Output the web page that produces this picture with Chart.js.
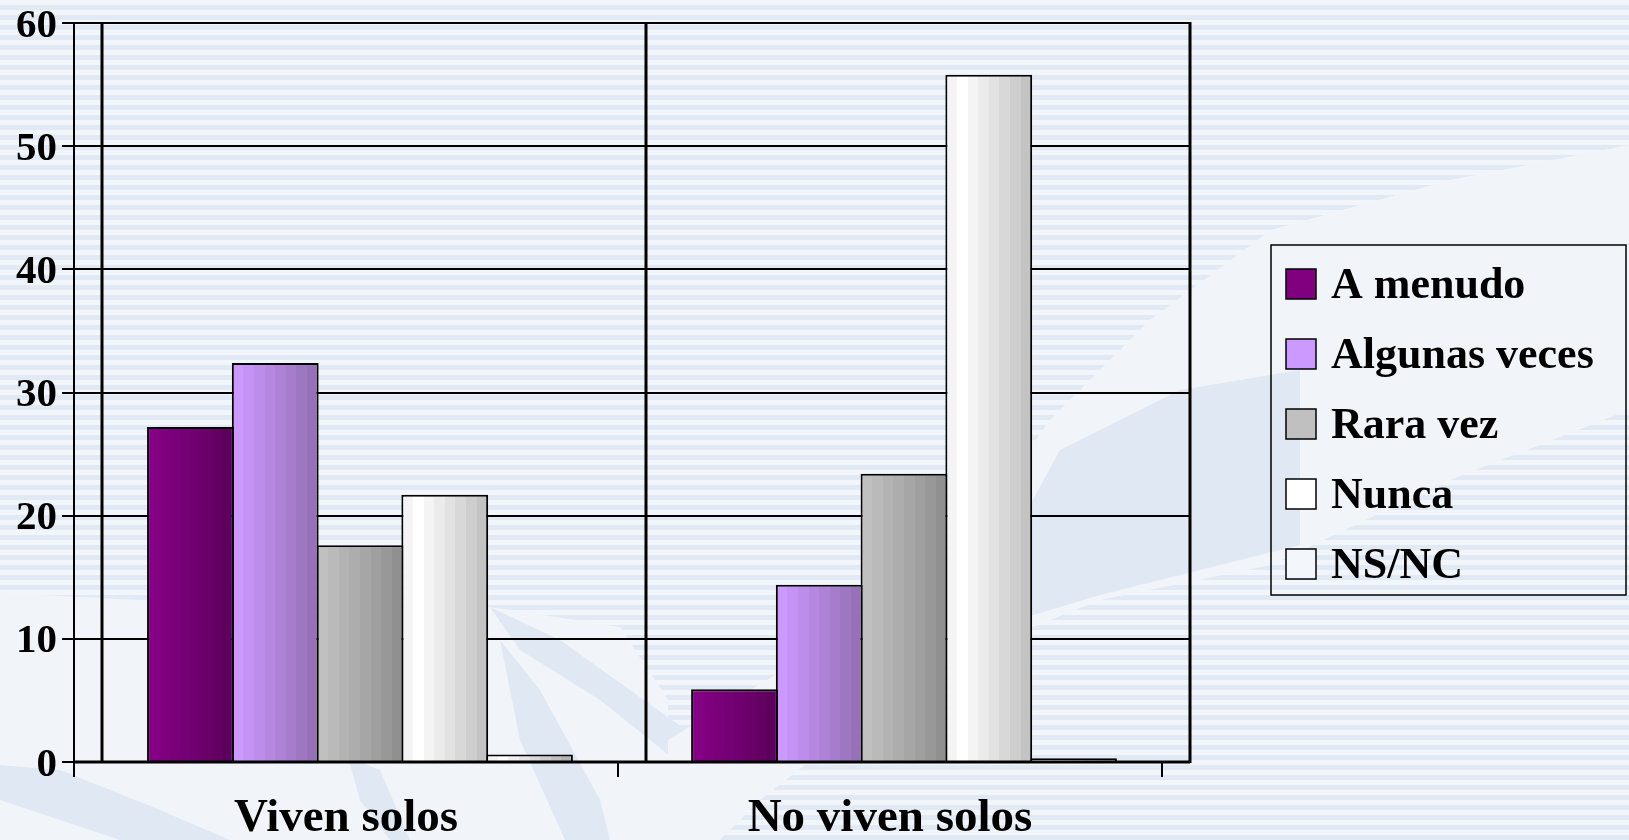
<!DOCTYPE html>
<html lang="es">
<head>
<meta charset="utf-8">
<title>Viven solos / No viven solos</title>
<script src="https://cdn.jsdelivr.net/npm/chart.js@4.4.1/dist/chart.umd.min.js"></script>
<style>
  html, body { margin: 0; padding: 0; }
  body {
    width: 1629px; height: 840px; overflow: hidden; position: relative;
    background: repeating-linear-gradient(to bottom, #f2f6fb 0px, #f2f6fb 5px, #e0e9f4 5px, #e0e9f4 10px);
  }
  .swoosh { position: absolute; left: 0; top: 0; width: 1629px; height: 840px; }
  .light { background: #f1f5fa; }
  .mid { background: #dfe8f3; }
  #chart { position: absolute; left: 0; top: 0; }
</style>
</head>
<body>
<!-- background decoration -->
<div class="swoosh light" style="clip-path: polygon(0px 593px, 140px 600px, 300px 625px, 490px 607px, 620px 627px, 668px 700px, 668px 840px, 0px 840px);"></div>
<div class="swoosh mid" style="clip-path: polygon(0px 765px, 60px 770px, 160px 810px, 230px 840px, 120px 840px, 0px 800px);"></div>
<div class="swoosh mid" style="clip-path: polygon(490px 607px, 560px 640px, 700px 740px, 700px 780px, 600px 700px, 520px 650px);"></div>
<div class="swoosh mid" style="clip-path: polygon(500px 640px, 540px 690px, 600px 800px, 610px 840px, 565px 840px, 520px 740px);"></div>
<div class="swoosh mid" style="clip-path: polygon(348px 757px, 380px 770px, 410px 840px, 390px 840px, 360px 800px);"></div>
<div class="swoosh light" style="clip-path: polygon(668px 740px, 800px 660px, 950px 560px, 1050px 420px, 1150px 320px, 1271px 230px, 1450px 180px, 1629px 145px, 1629px 410px, 1450px 480px, 1271px 565px, 1100px 600px, 950px 660px, 850px 730px, 760px 800px, 720px 840px, 668px 840px);"></div>
<div class="swoosh mid" style="clip-path: polygon(1000px 560px, 1060px 450px, 1180px 390px, 1300px 370px, 1300px 545px, 1100px 595px, 1000px 625px);"></div>

<canvas id="chart" width="1629" height="840"></canvas>
<script>
// data
const categories = ['Viven solos', 'No viven solos'];
const seriesLabels = ['A menudo', 'Algunas veces', 'Rara vez', 'Nunca', 'NS/NC'];
const aMenudo = [27.2, 5.9];
const algunasVeces = [32.4, 14.4];
const raraVez = [17.6, 23.4];
const nunca = [21.7, 55.8];
const nsNc = [0.6, 0.3];
const yTicks = [0, 10, 20, 30, 40, 50, 60];

const seriesValues = [aMenudo, algunasVeces, raraVez, nunca, nsNc];

// look
const FONT = "'Liberation Serif', 'Times New Roman', serif";
const CAT_PCT = 0.779;
const WALL_SHIFT = 14; // the old 3D chart draws its walls a bit right of the axis
const swatchColors = ['#800080', '#cc99ff', '#c0c0c0', '#ffffff', '#f3f6fa'];
const bands = [
  ['#840084', '#7f007f', '#7a007a', '#750075', '#700070', '#6a006a', '#640064', '#5d005d'],
  ['#cc99ff', '#c592f5', '#bd8deb', '#b688e1', '#ae83d7', '#a67dcc', '#9e77c2', '#9771b8'],
  ['#c0c0c0', '#bababa', '#b3b3b3', '#adadad', '#a6a6a6', '#9f9f9f', '#989898', '#909090'],
  ['#f4f4f4', '#ffffff', '#f4f4f4', '#ebebeb', '#e2e2e2', '#d8d8d8', '#cecece', '#c3c3c3'],
  ['#f4f4f4', '#ffffff', '#f0f0f0', '#e4e4e4', '#d8d8d8', '#cccccc', '#bfbfbf', '#b2b2b2']
];

function barFill(context) {
  const ds = context.datasetIndex;
  const chart = context.chart;
  const x = chart.scales.x;
  if (context.type !== 'data' || !x || !chart.chartArea) return swatchColors[ds];
  const catW = x.width / categories.length;
  const barW = catW * CAT_PCT / seriesLabels.length;
  const left = x.getPixelForValue(context.dataIndex) - catW * CAT_PCT / 2 + ds * barW;
  const g = chart.ctx.createLinearGradient(left, 0, left + barW, 0);
  const b = bands[ds];
  b.forEach((c, i) => {
    g.addColorStop(i / b.length, c);
    g.addColorStop((i + 1) / b.length - 0.0001, c);
  });
  return g;
}

function line(ctx, x1, y1, x2, y2) {
  ctx.beginPath();
  ctx.moveTo(x1, y1);
  ctx.lineTo(x2, y2);
  ctx.stroke();
}

// gridlines, walls and axis ticks of the old style plot
const framePlugin = {
  id: 'frame',
  beforeDatasetsDraw(chart) {
    const { ctx, chartArea: a, scales: { x, y } } = chart;
    const catW = x.width / categories.length;
    const top = y.getPixelForValue(yTicks[yTicks.length - 1]);
    const base = y.getPixelForValue(yTicks[0]);
    const axisX = a.left - WALL_SHIFT;
    const wallRight = a.right + WALL_SHIFT;
    ctx.save();
    ctx.strokeStyle = '#000';
    ctx.lineWidth = 2;
    yTicks.forEach(v => {
      const py = Math.round(y.getPixelForValue(v));
      line(ctx, axisX - 12, py, wallRight, py);
    });
    line(ctx, axisX, top - 1, axisX, base);
    for (let k = 0; k <= categories.length; k++) {
      const px = a.left + k * catW - WALL_SHIFT;
      line(ctx, px, base, px, base + 15);
    }
    ctx.lineWidth = 3;
    for (let k = 0; k <= categories.length; k++) {
      const px = a.left + k * catW + WALL_SHIFT;
      line(ctx, px, top - 1, px, base + 1);
    }
    ctx.restore();
  },
  afterDatasetsDraw(chart) {
    const { ctx, chartArea: a, scales: { y } } = chart;
    const base = Math.round(y.getPixelForValue(yTicks[0]));
    ctx.save();
    ctx.strokeStyle = '#000';
    ctx.lineWidth = 3;
    line(ctx, a.left - WALL_SHIFT, base, a.right + WALL_SHIFT, base);
    ctx.restore();
  }
};

// boxed legend on the right
const LEGEND = { left: 1271, top: 245, right: 1626, bottom: 595, swatchX: 1286, firstTop: 269, step: 70, size: 30, textX: 1331, font: 44 };
const legendPlugin = {
  id: 'boxLegend',
  afterDraw(chart) {
    const ctx = chart.ctx;
    ctx.save();
    ctx.strokeStyle = '#000';
    ctx.lineWidth = 1.5;
    ctx.strokeRect(LEGEND.left, LEGEND.top, LEGEND.right - LEGEND.left, LEGEND.bottom - LEGEND.top);
    ctx.font = 'bold ' + LEGEND.font + 'px ' + FONT;
    ctx.textBaseline = 'middle';
    ctx.textAlign = 'left';
    chart.data.datasets.forEach((ds, i) => {
      const top = LEGEND.firstTop + i * LEGEND.step;
      ctx.fillStyle = swatchColors[i];
      ctx.fillRect(LEGEND.swatchX, top, LEGEND.size, LEGEND.size);
      ctx.strokeRect(LEGEND.swatchX, top, LEGEND.size, LEGEND.size);
      ctx.fillStyle = '#000';
      ctx.fillText(ds.label, LEGEND.textX, top + LEGEND.size / 2 + 3);
    });
    ctx.restore();
  }
};

Chart.defaults.font.family = FONT;
Chart.defaults.color = '#000';

new Chart(document.getElementById('chart'), {
  type: 'bar',
  data: {
    labels: categories,
    datasets: seriesLabels.map((label, i) => ({
      label: label,
      data: seriesValues[i],
      backgroundColor: barFill,
      borderColor: '#000',
      borderWidth: 2,
      categoryPercentage: CAT_PCT,
      barPercentage: 1.024
    }))
  },
  options: {
    responsive: false,
    animation: false,
    events: [],
    layout: { padding: { top: 23, right: 453, left: 0, bottom: 0 } },
    plugins: {
      legend: { display: false },
      tooltip: { enabled: false }
    },
    scales: {
      x: {
        grid: { display: false, drawTicks: false },
        border: { display: false },
        ticks: {
          padding: 33,
          labelOffset: -WALL_SHIFT,
          maxRotation: 0,
          font: { size: 47, weight: 'bold', lineHeight: 1 }
        },
        afterFit(scale) { scale.height = 78; }
      },
      y: {
        min: yTicks[0],
        max: yTicks[yTicks.length - 1],
        // tick marks are drawn by the frame plugin, the length only pushes the labels left
        grid: { display: false, drawTicks: true, tickLength: 31 },
        border: { display: false },
        ticks: {
          stepSize: yTicks[1] - yTicks[0],
          padding: 0,
          labelOffset: 3,
          font: { size: 41, weight: 'bold', lineHeight: 1 }
        },
        afterFit(scale) { scale.width = 88; }
      }
    }
  },
  plugins: [framePlugin, legendPlugin]
});
</script>
</body>
</html>
